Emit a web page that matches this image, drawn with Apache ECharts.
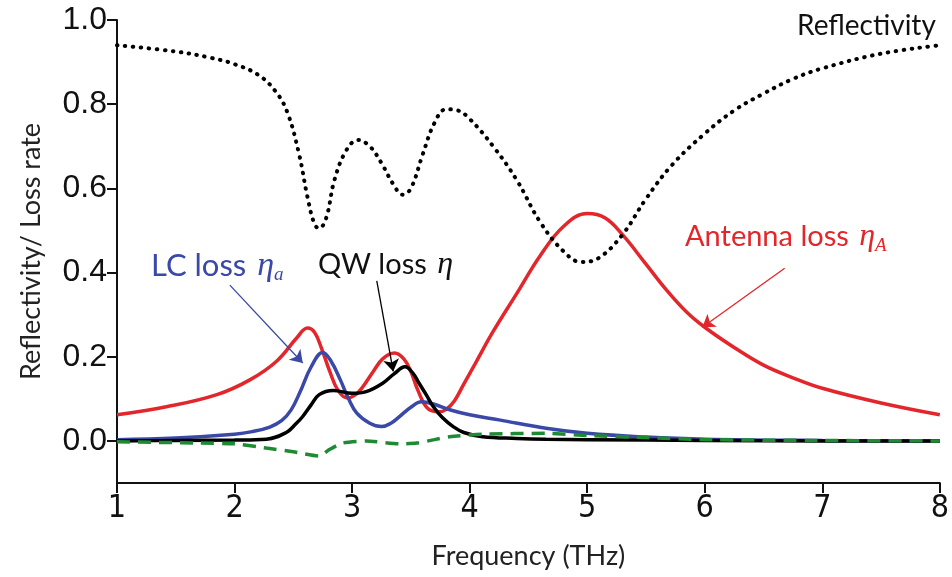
<!DOCTYPE html>
<html style="height: 100%; margin: 0; padding: 0;">
<head>
    <meta charset="utf-8">
    <title>Reflectivity / Loss rate</title>
    <script src="https://cdn.jsdelivr.net/npm/echarts@6.0.0/dist/echarts.min.js"></script>
    <style>
        body, html {
            height: 100%;
            margin: 0;
            padding: 0;
            background-color: #ffffff;
        }
        #main {
            width: 952px;
            height: 577px;
        }
    </style>
</head>
<body>
<div id="main"></div>
<script type="text/javascript">
    // tick labels
    var xTicks = [1, 2, 3, 4, 5, 6, 7, 8];
    var yTicks = [0, 0.2, 0.4, 0.6, 0.8, 1.0];

    // reflectivity (dotted black)
    var reflFreq = [1.0, 1.5, 1.8, 2.0, 2.2, 2.35, 2.45, 2.55, 2.62, 2.68, 2.72, 2.78, 2.85, 2.95, 3.05, 3.15, 3.25, 3.35, 3.43, 3.5, 3.6, 3.7, 3.8, 3.9, 4.0, 4.2, 4.4, 4.6, 4.8, 4.95, 5.1, 5.3, 5.5, 5.72, 6.0, 6.25, 6.5, 6.75, 7.0, 7.5, 8.0];
    var reflValues = [0.94, 0.925, 0.91, 0.895, 0.87, 0.83, 0.78, 0.68, 0.58, 0.515, 0.505, 0.53, 0.62, 0.69, 0.715, 0.70, 0.66, 0.61, 0.585, 0.60, 0.68, 0.755, 0.788, 0.785, 0.765, 0.70, 0.62, 0.52, 0.45, 0.425, 0.435, 0.49, 0.575, 0.655, 0.73, 0.785, 0.825, 0.86, 0.885, 0.92, 0.94];

    // antenna loss (red)
    var antFreq = [1.0, 1.42, 1.85, 2.13, 2.36, 2.53, 2.62, 2.68, 2.74, 2.81, 2.88, 2.96, 3.03, 3.09, 3.18, 3.26, 3.36, 3.44, 3.5, 3.56, 3.64, 3.74, 3.8, 3.87, 3.95, 4.05, 4.2, 4.4, 4.6, 4.8, 5.0, 5.15, 5.3, 5.5, 5.67, 5.85, 6.0, 6.25, 6.5, 6.75, 7.0, 7.5, 8.0];
    var antValues = [0.062, 0.081, 0.11, 0.145, 0.19, 0.245, 0.268, 0.258, 0.22, 0.165, 0.12, 0.102, 0.11, 0.128, 0.165, 0.195, 0.209, 0.195, 0.165, 0.12, 0.078, 0.069, 0.075, 0.095, 0.135, 0.185, 0.26, 0.35, 0.44, 0.51, 0.54, 0.53, 0.49, 0.42, 0.36, 0.305, 0.27, 0.222, 0.18, 0.15, 0.125, 0.09, 0.062];

    // LC loss (blue)
    var lcFreq = [1.0, 1.5, 2.0, 2.15, 2.3, 2.4, 2.48, 2.56, 2.65, 2.75, 2.82, 2.9, 2.97, 3.04, 3.15, 3.25, 3.33, 3.4, 3.5, 3.59, 3.7, 3.83, 4.0, 4.25, 4.65, 5.0, 5.5, 6.0, 7.0, 8.0];
    var lcValues = [0.003, 0.007, 0.016, 0.022, 0.033, 0.048, 0.073, 0.118, 0.175, 0.21, 0.19, 0.145, 0.1, 0.066, 0.042, 0.034, 0.042, 0.057, 0.08, 0.093, 0.087, 0.074, 0.062, 0.05, 0.03, 0.018, 0.009, 0.004, 0.001, 0];

    // QW loss (black)
    var qwFreq = [1.0, 1.5, 2.0, 2.27, 2.44, 2.52, 2.58, 2.65, 2.72, 2.84, 3.0, 3.12, 3.26, 3.36, 3.45, 3.52, 3.57, 3.63, 3.69, 3.77, 3.86, 3.95, 4.11, 4.4, 4.65, 5.0, 6.0, 7.0, 8.0];
    var qwValues = [0, 0.001, 0.002, 0.004, 0.02, 0.04, 0.058, 0.085, 0.11, 0.12, 0.113, 0.117, 0.137, 0.16, 0.176, 0.16, 0.137, 0.11, 0.082, 0.055, 0.034, 0.02, 0.01, 0.006, 0.004, 0.003, 0.001, 0, 0];

    // dashed green
    var dashFreq = [1.0, 1.7, 2.0, 2.27, 2.5, 2.72, 2.81, 2.92, 3.12, 3.4, 3.55, 3.7, 3.83, 4.11, 4.65, 5.0, 5.5, 6.0, 7.0, 8.0];
    var dashValues = [-0.002, -0.005, -0.007, -0.017, -0.026, -0.036, -0.02, -0.005, 0, -0.007, -0.005, 0.003, 0.01, 0.016, 0.018, 0.013, 0.008, 0.003, 0.001, 0];

    function pairs(xs, ys) {
        return xs.map(function (x, i) { return [x, ys[i]]; });
    }

    var textFont = 'Lato';

    function richText(color, sub, size) {
        var r = {
            t: { fontFamily: textFont, fontSize: size, fill: color, lineHeight: 36, verticalAlign: 'middle' },
            e: { fontFamily: 'Liberation Serif', fontStyle: 'italic', fontSize: size + 3, fill: color, lineHeight: 36, verticalAlign: 'middle', padding: [0, 0, 0, 3] }
        };
        if (sub) {
            r.s = { fontFamily: 'Liberation Serif', fontStyle: 'italic', fontSize: 19, fill: color, lineHeight: 36, verticalAlign: 'bottom' };
        }
        return r;
    }

    var myChart = echarts.init(document.getElementById('main'));

    var option = {
        animation: false,
        grid: { left: 117, right: 11, top: 20, bottom: 94 },
        xAxis: {
            type: 'value',
            min: 1,
            max: 8,
            interval: 1,
            name: 'Frequency (THz)',
            nameLocation: 'middle',
            nameGap: 60,
            nameTextStyle: { fontFamily: textFont, fontSize: 27, color: '#222' },
            axisLine: { onZero: false, lineStyle: { color: '#111', width: 2 } },
            axisTick: { inside: false, length: 10, lineStyle: { color: '#111', width: 2 } },
            axisLabel: {
                margin: 10,
                fontFamily: "'Liberation Sans Narrow', 'DejaVu Sans Condensed', 'Liberation Sans', sans-serif",
                fontSize: 32,
                color: '#111',
                customValues: xTicks
            },
            splitLine: { show: false }
        },
        yAxis: {
            type: 'value',
            min: -0.1,
            max: 1.0,
            name: 'Reflectivity/ Loss rate',
            nameLocation: 'middle',
            nameGap: 72,
            nameTextStyle: { fontFamily: textFont, fontSize: 27, color: '#222' },
            axisLine: { lineStyle: { color: '#111', width: 2 } },
            axisTick: { inside: false, length: 10, lineStyle: { color: '#111', width: 2 }, customValues: yTicks },
            axisLabel: {
                margin: 10,
                fontFamily: "'Liberation Sans', Arial, sans-serif",
                fontSize: 32,
                color: '#111',
                customValues: yTicks,
                formatter: function (v) { return v.toFixed(1); }
            },
            splitLine: { show: false }
        },
        series: [
            {
                name: 'Antenna loss',
                type: 'line',
                smooth: 0.4,
                showSymbol: false,
                data: pairs(antFreq, antValues),
                lineStyle: { color: '#e3262b', width: 3.5 },
                markLine: {
                    silent: true,
                    symbol: ['none', 'arrow'],
                    symbolSize: 12,
                    label: { show: false },
                    lineStyle: { color: '#e3262b', width: 1.3, type: 'solid' },
                    data: [[{ coord: [6.68, 0.41] }, { coord: [5.98, 0.27] }]]
                }
            },
            {
                name: 'LC loss',
                type: 'line',
                smooth: 0.4,
                showSymbol: false,
                data: pairs(lcFreq, lcValues),
                lineStyle: { color: '#3a48a8', width: 3.5 },
                markLine: {
                    silent: true,
                    symbol: ['none', 'arrow'],
                    symbolSize: 12,
                    label: { show: false },
                    lineStyle: { color: '#3a48a8', width: 1.3, type: 'solid' },
                    data: [[{ coord: [1.96, 0.37] }, { coord: [2.58, 0.185] }]]
                }
            },
            {
                name: 'QW loss',
                type: 'line',
                smooth: 0.4,
                showSymbol: false,
                data: pairs(qwFreq, qwValues),
                lineStyle: { color: '#000', width: 3.5 },
                markLine: {
                    silent: true,
                    symbol: ['none', 'arrow'],
                    symbolSize: 12,
                    label: { show: false },
                    lineStyle: { color: '#000', width: 1.3, type: 'solid' },
                    data: [[{ coord: [3.21, 0.38] }, { coord: [3.35, 0.165] }]]
                }
            },
            {
                name: 'Dashed',
                type: 'line',
                smooth: 0.2,
                showSymbol: false,
                data: pairs(dashFreq, dashValues),
                lineStyle: { color: '#1f8a34', width: 3.5, type: [13, 8] }
            },
            {
                name: 'Reflectivity',
                type: 'line',
                smooth: 0.4,
                showSymbol: false,
                data: pairs(reflFreq, reflValues),
                lineStyle: { color: '#000', width: 4, type: [0.5, 7.5], cap: 'round' }
            }
        ],
        graphic: [
            {
                type: 'text', left: 797, top: 12,
                style: { text: 'Reflectivity', fontFamily: textFont, fontSize: 28, fill: '#111' }
            },
            {
                type: 'text', left: 151, top: 249,
                style: { text: '{t|LC loss }{e|η}{s|a}', rich: richText('#3a48a8', true, 31) }
            },
            {
                type: 'text', left: 318, top: 249,
                style: { text: '{t|QW loss }{e|η}', rich: richText('#111', false, 29) }
            },
            {
                type: 'text', left: 685, top: 221,
                style: { text: '{t|Antenna loss }{e|η}{s|A}', rich: richText('#e3262b', true, 29) }
            }
        ]
    };

    myChart.setOption(option);
</script>
</body>
</html>
